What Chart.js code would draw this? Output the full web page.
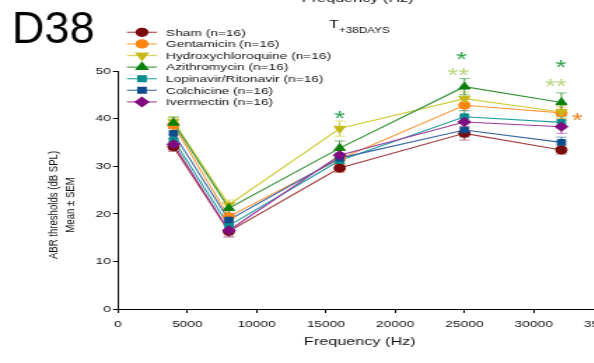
<!DOCTYPE html>
<html>
<head>
<meta charset="utf-8">
<script src="https://cdn.jsdelivr.net/npm/chart.js@4/dist/chart.umd.min.js"></script>
<style>
  html, body { margin: 0; padding: 0; background: #fff; overflow: hidden; width: 594px; height: 363px; }
  /* the source picture is stretched sideways, so the whole canvas is too */
  #wrap { position: absolute; left: 0; top: 0; width: 450px; height: 363px; transform: scaleX(1.4); transform-origin: 0 0; }
</style>
</head>
<body>
<div id="wrap"><canvas id="chart" width="450" height="363"></canvas></div>
<script>
const SX = 1.4;
const FONT = '"Liberation Sans", Arial, sans-serif';

// ---- data ----
const freqs = [4000, 8000, 16000, 25000, 32000];
const xTicks = [0, 5000, 10000, 15000, 20000, 25000, 30000, 35000];
const yTicks = [0, 10, 20, 30, 40, 50];

const groups = [
  'Sham (n=16)',
  'Gentamicin (n=16)',
  'Hydroxychloroquine (n=16)',
  'Azithromycin (n=16)',
  'Lopinavir/Ritonavir (n=16)',
  'Colchicine (n=16)',
  'Ivermectin (n=16)',
];

const sham        = [34.1, 16.3, 29.6, 36.9, 33.4];
const gentamicin  = [38.6, 19.4, 31.5, 42.8, 41.2];
const hydroxy     = [39.4, 21.9, 37.9, 44.2, 41.4];
const azithro     = [39.1, 21.2, 33.8, 46.7, 43.4];
const lopinavir   = [35.5, 17.5, 31.2, 40.4, 39.2];
const colchicine  = [36.9, 18.7, 31.7, 37.6, 35.0];
const ivermectin  = [34.6, 16.5, 32.3, 39.3, 38.3];

const shamSem       = [1.0, 1.2, 0.9, 1.4, 0.9];
const gentamicinSem = [1.1, 1.2, 1.1, 1.2, 1.2];
const hydroxySem    = [1.0, 1.0, 1.6, 1.4, 1.3];
const azithroSem    = [1.2, 1.1, 1.5, 1.7, 2.0];
const lopinavirSem  = [1.2, 1.1, 1.1, 1.3, 1.2];
const colchicineSem = [1.1, 1.0, 1.1, 1.5, 1.1];
const ivermectinSem = [1.2, 1.2, 1.2, 1.3, 1.4];

// significance marks: [freq, dB, text, colour]
const stars = [
  [16000, 40.7, '*',  '#27a04c'],
  [24800, 53.1, '*',  '#27a04c'],
  [24550, 49.7, '**', '#b7d47c'],
  [31950, 51.4, '*',  '#27a04c'],
  [31600, 47.4, '**', '#b7d47c'],
  [33150, 40.3, '*',  '#f5821f'],
];

const values = [sham, gentamicin, hydroxy, azithro, lopinavir, colchicine, ivermectin];
const sems = [shamSem, gentamicinSem, hydroxySem, azithroSem, lopinavirSem, colchicineSem, ivermectinSem];

// ---- styles ----
const lineColors = ['#a63a3a', '#ff9a3c', '#cfcc3a', '#2f8f2f', '#1f9d9d', '#3465a4', '#9c3a9c'];
const markColors = ['#7a0a0a', '#ff8410', '#c4b818', '#0a800a', '#058c8c', '#0d4c8c', '#800a80'];
const markStyles = ['circle', 'circle', 'triangle', 'triangle', 'rect', 'rect', 'rectRot'];
const markRot    = [0, 0, 180, 0, 0, 0, 0];
const markRadius = [4, 4, 4.6, 4.6, 4, 4, 4.6];

function drawMark(ctx, i, x, y) {
  ctx.save();
  ctx.fillStyle = markColors[i];
  ctx.strokeStyle = markColors[i];
  Chart.helpers.drawPoint(ctx, {
    pointStyle: markStyles[i], rotation: markRot[i], radius: markRadius[i], borderWidth: 1
  }, x, y);
  ctx.restore();
}

const extras = {
  id: 'extras',
  afterDatasetsDraw(chart) {
    const { ctx, scales: { x, y } } = chart;
    // error bars (mean +/- SEM)
    values.forEach((vals, i) => {
      ctx.save();
      ctx.strokeStyle = lineColors[i];
      ctx.lineWidth = 1;
      vals.forEach((v, j) => {
        const px = x.getPixelForValue(freqs[j]);
        const hi = y.getPixelForValue(v + sems[i][j]);
        const lo = y.getPixelForValue(v - sems[i][j]);
        ctx.globalAlpha = 0.9;
        ctx.beginPath();
        ctx.moveTo(px, hi); ctx.lineTo(px, lo);
        ctx.stroke();
        ctx.globalAlpha = 0.6;
        ctx.beginPath();
        ctx.moveTo(px - 3.8, hi); ctx.lineTo(px + 3.8, hi);
        ctx.moveTo(px - 3.8, lo); ctx.lineTo(px + 3.8, lo);
        ctx.stroke();
      });
      ctx.restore();
    });
    // redraw the markers over the bars
    values.forEach((vals, i) => {
      vals.forEach((v, j) => drawMark(ctx, i, x.getPixelForValue(freqs[j]), y.getPixelForValue(v)));
    });
  },
  afterDraw(chart) {
    const { ctx, scales: { x, y } } = chart;
    ctx.save();

    // stars
    ctx.font = '20px ' + FONT;
    ctx.textAlign = 'center';
    ctx.textBaseline = 'alphabetic';
    for (const [f, db, txt, col] of stars) {
      const m = ctx.measureText(txt);
      const off = (m.actualBoundingBoxAscent - m.actualBoundingBoxDescent) / 2;
      ctx.fillStyle = col;
      ctx.fillText(txt, x.getPixelForValue(f), y.getPixelForValue(db) + off);
    }

    // legend
    ctx.font = '9.8px ' + FONT;
    ctx.textAlign = 'left';
    ctx.textBaseline = 'middle';
    groups.forEach((g, i) => {
      const ly = 32.3 + i * 11.6;
      ctx.strokeStyle = lineColors[i];
      ctx.globalAlpha = 0.8;
      ctx.lineWidth = 1.3;
      ctx.beginPath();
      ctx.moveTo(90.7, ly); ctx.lineTo(112.1, ly);
      ctx.stroke();
      ctx.globalAlpha = 1;
      drawMark(ctx, i, 101.4, ly);
      ctx.fillStyle = '#111';
      ctx.fillText(g, 118.6, ly + 0.5);
    });

    // titles
    ctx.fillStyle = '#111';
    ctx.textAlign = 'center';
    ctx.textBaseline = 'alphabetic';
    ctx.font = '11.6px ' + FONT;
    ctx.fillText('Frequency (Hz)', 257, 345);
    ctx.fillText('Frequency (Hz)', 255.5, 2);

    ctx.textAlign = 'left';
    ctx.font = '11.6px ' + FONT;
    ctx.fillText('T', 235, 28.3);
    ctx.font = '8.4px ' + FONT;
    ctx.fillText('+38DAYS', 242, 33.3);

    ctx.save();
    ctx.translate(38.6, 205);
    ctx.rotate(-Math.PI / 2);
    ctx.textAlign = 'center';
    ctx.textBaseline = 'middle';
    ctx.font = '9.6px ' + FONT;
    ctx.fillText('ABR thresholds (dB SPL)', 0, 0);
    ctx.fillText('Mean \u00b1 SEM', 0, 11.6);
    ctx.restore();

    // panel letter, not stretched
    ctx.save();
    ctx.scale(1 / SX, 1);
    ctx.font = '45px ' + FONT;
    ctx.textAlign = 'left';
    ctx.fillStyle = '#000';
    ctx.fillText('D38', 12, 43);
    ctx.restore();

    ctx.restore();
  }
};

const datasets = values.map((vals, i) => ({
  label: groups[i],
  data: freqs.map((f, j) => ({ x: f, y: vals[j] })),
  borderColor: lineColors[i],
  borderWidth: 1.1,
  pointRadius: 0,
  fill: false,
  tension: 0,
  order: values.length - i,
}));

const tickFont = { family: FONT, size: 9.8 };

new Chart(document.getElementById('chart'), {
  type: 'line',
  data: { datasets },
  options: {
    responsive: false,
    animation: false,
    layout: { padding: { left: 0, top: 71, right: 450 - 430.71, bottom: 0 } },
    plugins: { legend: { display: false }, tooltip: { enabled: false } },
    scales: {
      x: {
        type: 'linear',
        min: 0, max: 35000,
        afterBuildTicks: s => { s.ticks = xTicks.map(v => ({ value: v })); },
        afterFit: s => { s.height = 54; },
        grid: { drawOnChartArea: false, drawTicks: true, tickLength: 4, color: '#000', lineWidth: 1 },
        border: { color: '#000', width: 1 },
        ticks: { color: '#111', font: tickFont, padding: 5, maxRotation: 0, autoSkip: false, callback: v => String(v) },
      },
      y: {
        min: 0, max: 50,
        afterBuildTicks: s => { s.ticks = yTicks.map(v => ({ value: v })); },
        afterFit: s => { s.width = 84.29; },
        grid: { drawOnChartArea: false, drawTicks: true, tickLength: 3.6, color: '#000', lineWidth: 1 },
        border: { color: '#000', width: 1 },
        ticks: { color: '#111', font: tickFont, padding: 1.5, callback: v => String(v) },
      }
    }
  },
  plugins: [extras]
});
</script>
</body>
</html>
